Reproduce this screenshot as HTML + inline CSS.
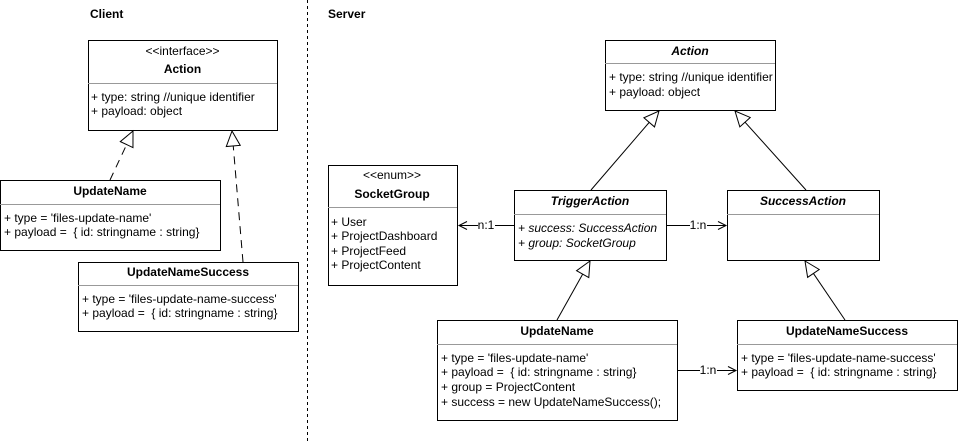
<!DOCTYPE html>
<html><head><meta charset="utf-8"><style>
html,body{margin:0;padding:0;background:#fff}
svg{display:block}
text{font-family:"Liberation Sans",Arial,sans-serif;font-size:12px;fill:#000;white-space:pre}
.b{font-weight:bold}.i{font-style:italic}
.box{fill:#fff;stroke:#000;stroke-width:1}
.div{stroke:#999;stroke-width:1}
.ln{stroke:#000;stroke-width:1;fill:none}
</style></head><body>
<svg id="s" width="958" height="443" viewBox="0 0 958 443" xmlns="http://www.w3.org/2000/svg">
<line x1="307.5" y1="0" x2="307.5" y2="443" stroke="#000" stroke-dasharray="3,3"/>
<text x="90" y="18" class="b">Client</text>
<text x="328" y="18" class="b">Server</text>

<rect class="box" x="88.5" y="40.5" width="189" height="90"/>
<line class="div" x1="88" y1="83.5" x2="277" y2="83.5"/>
<text x="182.5" y="55" text-anchor="middle">&lt;&lt;interface&gt;&gt;</text>
<text x="182.5" y="73" text-anchor="middle" class="b">Action</text>
<text x="91" y="101">+ type: string //unique identifier</text>
<text x="91" y="115">+ payload: object</text>

<rect class="box" x="0.5" y="180.5" width="220" height="70"/>
<line class="div" x1="0" y1="204.5" x2="220" y2="204.5"/>
<text x="110" y="195" text-anchor="middle" class="b">UpdateName</text>
<text x="4" y="222">+ type = 'files-update-name'</text>
<text x="4" y="236">+ payload =&#160; { id: stringname : string}</text>

<rect class="box" x="78.5" y="262.5" width="220" height="69"/>
<line class="div" x1="78" y1="285.5" x2="298" y2="285.5"/>
<text x="188" y="276" text-anchor="middle" class="b">UpdateNameSuccess</text>
<text x="82" y="303">+ type = 'files-update-name-success'</text>
<text x="82" y="317">+ payload =&#160; { id: stringname : string}</text>

<rect class="box" x="605.5" y="40.5" width="170" height="70"/>
<line class="div" x1="605" y1="63.5" x2="775" y2="63.5"/>
<text x="690" y="55" text-anchor="middle" class="b i">Action</text>
<text x="609" y="81">+ type: string //unique identifier</text>
<text x="609" y="96">+ payload: object</text>

<rect class="box" x="328.5" y="165.5" width="129" height="120"/>
<line class="div" x1="328" y1="207.5" x2="457" y2="207.5"/>
<text x="392" y="179" text-anchor="middle">&lt;&lt;enum&gt;&gt;</text>
<text x="392" y="198" text-anchor="middle" class="b">SocketGroup</text>
<text x="331" y="226">+ User</text>
<text x="331" y="240">+ ProjectDashboard</text>
<text x="331" y="255">+ ProjectFeed</text>
<text x="331" y="269">+ ProjectContent</text>

<rect class="box" x="514.5" y="190.5" width="152" height="70"/>
<line class="div" x1="514" y1="214.5" x2="666" y2="214.5"/>
<text x="590" y="205" text-anchor="middle" class="b i">TriggerAction</text>
<text x="518" y="232" class="i">+ success: SuccessAction</text>
<text x="518" y="247" class="i">+ group: SocketGroup</text>

<rect class="box" x="727.5" y="190.5" width="152" height="70"/>
<line class="div" x1="727" y1="214.5" x2="879" y2="214.5"/>
<text x="803" y="205" text-anchor="middle" class="b i">SuccessAction</text>

<rect class="box" x="437.5" y="320.5" width="240" height="100"/>
<line class="div" x1="437" y1="344.5" x2="677" y2="344.5"/>
<text x="557" y="335" text-anchor="middle" class="b">UpdateName</text>
<text x="441" y="362">+ type = 'files-update-name'</text>
<text x="441" y="376">+ payload =&#160; { id: stringname : string}</text>
<text x="441" y="391">+ group = ProjectContent</text>
<text x="441" y="406">+ success = new UpdateNameSuccess();</text>

<rect class="box" x="737.5" y="320.5" width="220" height="70"/>
<line class="div" x1="737" y1="344.5" x2="957" y2="344.5"/>
<text x="847" y="335" text-anchor="middle" class="b">UpdateNameSuccess</text>
<text x="741" y="362">+ type = 'files-update-name-success'</text>
<text x="741" y="376">+ payload =&#160; { id: stringname : string}</text>

<line class="ln" x1="514" y1="225.5" x2="459" y2="225.5"/>
<polyline class="ln" points="467,221.5 459,225.5 467,229.5"/>
<rect x="478" y="219" width="17" height="12" fill="#fff"/>
<text x="486" y="229" text-anchor="middle" font-size="11">n:1</text>

<line class="ln" x1="666" y1="225.5" x2="726" y2="225.5"/>
<polyline class="ln" points="718,221.5 726,225.5 718,229.5"/>
<rect x="690" y="219" width="17" height="12" fill="#fff"/>
<text x="698" y="229" text-anchor="middle" font-size="11">1:n</text>

<line class="ln" x1="677" y1="370.5" x2="736" y2="370.5"/>
<polyline class="ln" points="728,366.5 736,370.5 728,374.5"/>
<rect x="700" y="364" width="17" height="12" fill="#fff"/>
<text x="708" y="374" text-anchor="middle" font-size="11">1:n</text>
<g id="g"></g>
</svg>
<script>
var g=document.getElementById('g');
function inh(x1,y1,x2,y2,dash){
 var dx=x2-x1,dy=y2-y1,L=Math.sqrt(dx*dx+dy*dy),ux=dx/L,uy=dy/L,px=-uy,py=ux,s=15,w=7;
 var bx=x2-ux*s,by=y2-uy*s;
 var l=document.createElementNS('http://www.w3.org/2000/svg','line');
 l.setAttribute('x1',x1);l.setAttribute('y1',y1);l.setAttribute('x2',bx);l.setAttribute('y2',by);
 l.setAttribute('class','ln');if(dash)l.setAttribute('stroke-dasharray','8,6');g.appendChild(l);
 var p=document.createElementNS('http://www.w3.org/2000/svg','polygon');
 p.setAttribute('points',x2+','+y2+' '+(bx+px*w)+','+(by+py*w)+' '+(bx-px*w)+','+(by-py*w));
 p.setAttribute('fill','#fff');p.setAttribute('stroke','#000');g.appendChild(p);
}
inh(110,180,133,131,1);
inh(243,262,232,131,1);
inh(591,190,659,111,0);
inh(806,190,735,111,0);
inh(557,320,590,261,0);
inh(845,320,805,261,0);
</script>
</body></html>
